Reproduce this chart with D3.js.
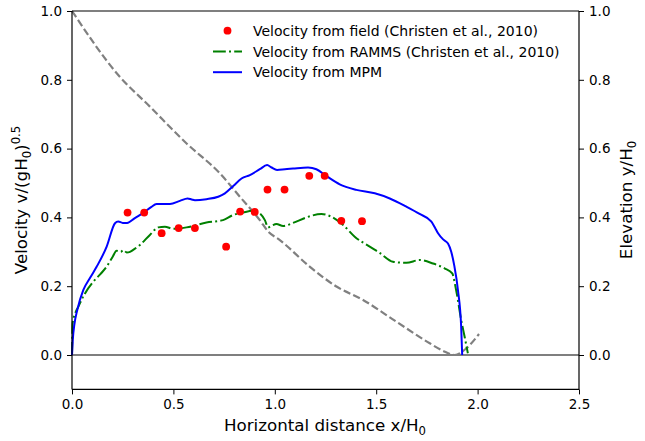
<!DOCTYPE html>
<html><head><meta charset="utf-8">
<script src="https://cdn.jsdelivr.net/npm/d3@7"></script>
<style>body{margin:0;background:#fff}svg{display:block;font-family:"DejaVu Sans",sans-serif}</style>
</head><body><svg id="c" width="645" height="441"></svg>
<script>
const fieldX=[0.274,0.356,0.442,0.526,0.606,0.760,0.829,0.901,0.964,1.048,1.170,1.246,1.328,1.430];
const fieldY=[0.414,0.414,0.354,0.369,0.369,0.315,0.417,0.416,0.481,0.481,0.521,0.521,0.390,0.389];
const mpmX=[0,0.004,0.012,0.026,0.056,0.09,0.122,0.171,0.212,0.228,0.250,0.272,0.310,0.351,0.390,0.417,0.483,0.532,0.570,0.590,0.606,0.663,0.721,0.754,0.795,0.836,0.877,0.926,0.962,0.984,1.011,1.050,1.090,1.164,1.205,1.255,1.320,1.402,1.493,1.567,1.649,1.714,1.772,1.790,1.805,1.830,1.854,1.870,1.885,1.903,1.919,1.924];
const mpmY=[0,0.045,0.09,0.131,0.189,0.225,0.257,0.315,0.383,0.388,0.384,0.384,0.398,0.413,0.430,0.439,0.439,0.448,0.455,0.452,0.450,0.453,0.460,0.470,0.491,0.513,0.523,0.540,0.552,0.545,0.538,0.540,0.542,0.545,0.540,0.520,0.496,0.480,0.470,0.455,0.431,0.410,0.388,0.370,0.354,0.336,0.324,0.300,0.260,0.189,0.082,0];
const rammsX=[0,0.003,0.015,0.031,0.060,0.105,0.140,0.171,0.200,0.220,0.240,0.253,0.270,0.286,0.300,0.335,0.384,0.425,0.458,0.499,0.565,0.663,0.745,0.795,0.844,0.893,0.926,0.951,0.967,0.985,1.008,1.041,1.090,1.156,1.230,1.271,1.337,1.394,1.468,1.517,1.583,1.649,1.714,1.780,1.837,1.875,1.894,1.919,1.936,1.952];
const rammsY=[0,0.092,0.12,0.140,0.175,0.213,0.235,0.257,0.285,0.303,0.300,0.305,0.298,0.300,0.305,0.320,0.349,0.371,0.373,0.367,0.371,0.385,0.392,0.407,0.414,0.419,0.412,0.392,0.371,0.376,0.381,0.375,0.384,0.400,0.410,0.404,0.378,0.344,0.315,0.297,0.271,0.268,0.276,0.266,0.252,0.237,0.189,0.102,0.053,0.005];
const elevX=[0,0.228,0.384,0.565,0.729,0.828,0.926,0.967,1.025,1.172,1.304,1.435,1.599,1.764,1.830,1.887,1.944,2.007];
const elevY=[1.0,0.814,0.722,0.615,0.528,0.460,0.392,0.359,0.334,0.257,0.199,0.160,0.097,0.034,0.012,0.0,0.019,0.061];
const xTicks=[0,0.5,1.0,1.5,2.0,2.5];
const yTicks=[0,0.2,0.4,0.6,0.8,1.0];
const legendLabels=["Velocity from field (Christen et al., 2010)","Velocity from RAMMS (Christen et al., 2010)","Velocity from MPM"];

const svg=d3.select("#c");
const L=72,R=579,T=11,B=389.4;
const x=d3.scaleLinear().domain([0,2.5]).range([L,R]);
const y=d3.scaleLinear().domain([-0.1,1.0]).range([B,T]);
const y2=d3.scaleLinear().domain([-0.1,1.0]).range([B,T]);
const g=svg.append("g");
const line=(xs,ys,sc)=>d3.line().x((d,i)=>x(xs[i])).y((d,i)=>sc(ys[i])).curve(d3.curveMonotoneX)(xs);

g.append("line").attr("x1",L).attr("x2",R).attr("y1",y(0)).attr("y2",y(0)).attr("stroke","#000").attr("stroke-width",1.2);
g.append("path").attr("d",line(elevX,elevY,y2)).attr("fill","none").attr("stroke","#808080").attr("stroke-width",2.2).attr("stroke-dasharray","7.4,3.2");
g.append("path").attr("d",line(rammsX,rammsY,y)).attr("fill","none").attr("stroke","#008000").attr("stroke-width",2).attr("stroke-dasharray","12.8,3.2,2,3.2");
g.append("path").attr("d",line(mpmX,mpmY,y)).attr("fill","none").attr("stroke","#0000ff").attr("stroke-width",2);
g.selectAll("circle.f").data(fieldX).join("circle").attr("class","f").attr("cx",d=>x(d)).attr("cy",(d,i)=>y(fieldY[i])).attr("r",3.9).attr("fill","#ff0000");

const fmt=d3.format(".1f");
const ax=svg.append("g").attr("transform",`translate(0,${B})`).call(d3.axisBottom(x).tickValues(xTicks).tickFormat(fmt).tickSize(5).tickPadding(5));
const ayl=svg.append("g").attr("transform",`translate(${L},0)`).call(d3.axisLeft(y).tickValues(yTicks).tickFormat(fmt).tickSize(5).tickPadding(5));
const ayr=svg.append("g").attr("transform",`translate(${R},0)`).call(d3.axisRight(y2).tickValues(yTicks).tickFormat(fmt).tickSize(5).tickPadding(5));
svg.append("line").attr("x1",L).attr("x2",R).attr("y1",T).attr("y2",T).attr("stroke","#000").attr("stroke-width",1.2);
[ax,ayl,ayr].forEach(a=>{a.selectAll("path").attr("stroke","#000").attr("stroke-width",1.2);a.selectAll("line").attr("stroke","#000").attr("stroke-width",1);a.selectAll("text").attr("font-size",13.5).attr("font-family","DejaVu Sans").attr("fill","#000");});
ax.select(".domain").attr("d",`M${L},0H${R}`);
ayl.select(".domain").attr("d",`M0,${T}V${B}`);
ayr.select(".domain").attr("d",`M0,${T}V${B}`);

const xl=svg.append("text").attr("x",325).attr("y",431).attr("text-anchor","middle").attr("font-size",16.7);
xl.append("tspan").text("Horizontal distance x/H");
xl.append("tspan").text("0").attr("font-size",11.7).attr("dy",4);
const yl=svg.append("text").attr("transform","translate(27,200) rotate(-90)").attr("text-anchor","middle").attr("font-size",16.7);
yl.append("tspan").text("Velocity v/(gH");
yl.append("tspan").text("0").attr("font-size",11.7).attr("dy",4);
yl.append("tspan").text(")").attr("dy",-4);
yl.append("tspan").text("0.5").attr("font-size",11.7).attr("dy",-7);
const yr=svg.append("text").attr("transform","translate(632,200) rotate(-90)").attr("text-anchor","middle").attr("font-size",16.7);
yr.append("tspan").text("Elevation y/H");
yr.append("tspan").text("0").attr("font-size",11.7).attr("dy",4);

const lg=svg.append("g");
const rows=[30.7,51.5,72.2];
lg.append("circle").attr("cx",227.5).attr("cy",rows[0]).attr("r",3.9).attr("fill","#ff0000");
lg.append("line").attr("x1",213).attr("x2",242).attr("y1",rows[1]).attr("y2",rows[1]).attr("stroke","#008000").attr("stroke-width",2).attr("stroke-dasharray","12.8,3.2,2,3.2");
lg.append("line").attr("x1",213).attr("x2",242).attr("y1",rows[2]).attr("y2",rows[2]).attr("stroke","#0000ff").attr("stroke-width",2);
legendLabels.forEach((t,i)=>lg.append("text").attr("x",253).attr("y",rows[i]+5).attr("font-size",14).text(t));
</script></body></html>
